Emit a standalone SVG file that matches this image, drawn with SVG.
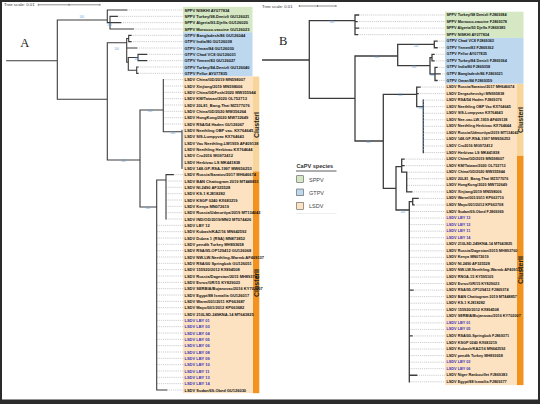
<svg xmlns="http://www.w3.org/2000/svg" width="540" height="404" viewBox="0 0 540 404">
<style>
text{font-family:"Liberation Sans",Arial,sans-serif;}
.br{fill:none;stroke:#3c3c3c;stroke-width:1.1;stroke-linecap:square}
.brB{fill:none;stroke:#3c3c3c;stroke-width:1.3;stroke-linecap:square}
.ds{fill:none;stroke:#9a9a9a;stroke-width:0.5;stroke-dasharray:1.2 0.9}
.la{font-size:4px;font-weight:bold;fill:#111;dominant-baseline:central}
.lb{font-size:3.8px;font-weight:bold;fill:#111;dominant-baseline:central}
.lby{fill:#3b32b8}
.bs{font-size:2.6px;fill:#5b9bd5;text-anchor:middle;dominant-baseline:central}
.cl{font-size:7px;font-weight:bold;fill:#222;text-anchor:middle}
.sc{font-size:4.3px;fill:#333;dominant-baseline:central}
.sp{fill:#d5e8c3}.gt{fill:#bdd7ee}.ls{fill:#fde2c1}.c1{fill:#f8d59a}.c2{fill:#f2921f}
</style>
<rect x="0" y="0" width="540" height="404" fill="#fff"/>
<g id="bands">
<rect class="sp" x="183" y="6.8" width="69.5" height="25.4"/>
<rect class="gt" x="183" y="32.2" width="69.5" height="44.3"/>
<rect class="ls" x="183" y="76.5" width="70" height="316.7"/>
<rect class="c1" x="253" y="76.5" width="6.3" height="95"/>
<rect class="c2" x="253" y="171.5" width="6.3" height="221.7"/>
<rect class="sp" x="445" y="11.7" width="78.5" height="26.2"/>
<rect class="gt" x="445" y="37.9" width="78.5" height="45.9"/>
<rect class="ls" x="445" y="83.8" width="72" height="301.3"/>
<rect class="c1" x="517" y="83.8" width="6.5" height="72"/>
<rect class="c2" x="517" y="155.8" width="6.5" height="229.3"/>
</g>
<g id="clusters">
<text class="cl" transform="translate(259.2,125) rotate(-90)">ClusterI</text>
<text class="cl" transform="translate(259.2,283) rotate(-90)">ClusterII</text>
<text class="cl" transform="translate(523.4,120) rotate(-90)">ClusterI</text>
<text class="cl" transform="translate(523.4,270) rotate(-90)">ClusterII</text>
</g>
<g id="scaleA">
<text class="sc" x="4" y="4.8">Tree scale: 0.01</text>
<path d="M38.3 4.8H100M38.3 3.8V5.8M69 3.8V5.8M100 3.8V5.8" fill="none" stroke="#444" stroke-width="0.6"/>
</g>
<g id="scaleB">
<text class="sc" x="262" y="6">Tree scale: 0.01</text>
<path d="M299.3 6H336M299.3 5V7M317.5 5V7M336 5V7" fill="none" stroke="#444" stroke-width="0.6"/>
</g>
<text x="20.3" y="47" font-size="12.5" fill="#222" style="font-family:'Liberation Serif',serif">A</text>
<text x="279" y="45.3" font-size="12.5" fill="#222" style="font-family:'Liberation Serif',serif">B</text>
<g id="connectors">
<path class="ds" d="M126.7 10H183M117.3 16.33H183M120.7 22.67H183M133.3 29H183M131 35.33H183M131 41.67H183M136.7 48H183M146.7 54.33H183M146.7 60.67H183M138 67H183M138 73.33H183M163.3 79.67H183M163.3 86H183M163.3 92.33H183M163.3 98.67H183M163.3 105H183M163.3 111.33H183M163.3 117.67H183M163.3 124H183M173.3 174.67H183M166 181H183M166 187.33H183M166 193.67H183M166 200H183M166 206.33H183M166 212.67H183M166 219H183M156.7 225.33H183M156.7 231.67H183M156.7 238H183M156.7 244.33H183M156.7 250.67H183M156.7 257H183M156.7 263.33H183M156.7 269.67H183M156.7 276H183M156.7 282.33H183M156.7 288.67H183M156.7 295H183M156.7 301.33H183M156.7 307.67H183M156.7 314H183M156.7 320.33H183M156.7 326.67H183M156.7 333H183M156.7 339.33H183M156.7 345.67H183M156.7 352H183M156.7 358.33H183M156.7 364.67H183M156.7 371H183M156.7 377.33H183M156.7 383.67H183M166.7 390H183"/>
<path class="ds" d="M358.5 15H445M357 21.55H445M358.5 28.1H445M357.5 34.65H445M437 41.2H445M437 47.75H445M434 54.3H445M434 60.85H445M437 67.4H445M440 73.95H445M437 80.5H445M420 87.05H445M418 93.6H445M423.3 100.15H445M423.3 106.7H445M423.3 113.25H445M423.3 119.8H445M423.3 126.35H445M423.3 132.9H445M423.3 139.45H445M423.3 146H445M423.3 152.55H445M404 159.1H445M404 165.65H445M406.7 172.2H445M406.7 178.75H445M406.7 185.3H445M411.7 191.85H445M418 198.4H445M414 204.95H445M409.3 211.5H445M409.3 218.05H445M409.3 224.6H445M409.3 231.15H445M409.3 237.7H445M409.3 244.25H445M409.3 250.8H445M409.3 257.35H445M409.3 263.9H445M409.3 270.45H445M409.3 277H445M409.3 283.55H445M413 290.1H445M409.3 296.65H445M409.3 303.2H445M409.3 309.75H445M409.3 316.3H445M409.3 322.85H445M409.3 329.4H445M412 335.95H445M409.3 342.5H445M409.3 349.05H445M409.3 355.6H445M409.3 362.15H445M409.3 368.7H445M416.7 375.25H445M409.3 381.8H445"/>
<path class="br" d="M6.7 60.7H57.3M57.3 20V99.3M57.3 20H107.3M107.3 10V22.67M107.3 10H126.7M107.3 22.67H110M110 16.33V29M110 16.33H117.3M110 22.67H120.7M110 29H133.3M57.3 99.3H107.3M107.3 42.7V160M107.3 42.7H126.7M126.7 38.5V62.2M126.7 38.5H128.7M128.7 35.33V41.67M128.7 35.33H131M128.7 41.67H131M126.7 48H136.7M126.7 62.2H128.3M128.3 57.5V70.2M128.3 57.5H138M138 54.33V60.67M138 54.33H146.7M138 60.67H146.7M128.3 70.2H136.7M136.7 67V73.33M136.7 67H138M136.7 73.33H138M107.3 160H140M140 110V207M140 110H163.3M163.3 79.67V131.7M163.3 131.7H182M182 130.33V168.33M140 207H156.7M156.7 180V390M156.7 180H166M166 174.67V219M166 174.67H173.3M156.7 390H166.7"/>
<path class="brB" d="M262.7 60H309.3M309.3 20.7V98.3M309.3 20.7H355M355 15V34.65M355 15H358.5M355 21.55H357M355 28.1H358.5M355 34.65H357.5M309.3 98.3H355M355 56V141M355 56H397.7M397.7 44.3V65.7M397.7 44.3H434.3M434.3 41.2V47.75M434.3 41.2H437M434.3 47.75H437M397.7 65.7H430M430 57.6V74M430 57.6H432M432 54.3V60.85M432 54.3H434M432 60.85H434M430 74H435M435 67.4V80.5M435 67.4H437M435 73.95H440M435 80.5H437M355 141H383.3M383.3 94.3V188.3M383.3 94.3H416.7M416.7 87.05V106.7M416.7 87.05H420M416.7 93.6H418M416.7 106.7H423.3M423.3 100.15V152.55M383.3 188.3H396M396 166.7V210M396 166.7H401.7M401.7 159.1V172.2M401.7 159.1H404M401.7 165.65H404M401.7 172.2H406.7M406.7 172.2V191.85M406.7 191.85H411.7M396 210H409.3M409.3 201.7V381.8M409.3 201.7H412.7M412.7 198.4V204.95M412.7 198.4H418M412.7 204.95H414M409.3 290.1H413M409.3 335.95H412M409.3 375.25H416.7"/>
<path d="M423.3 101V152M182 131V168" fill="none" stroke="#5b9bd5" stroke-width="1.1" stroke-dasharray="1 2.2"/>
</g>
<g id="bootstrap">
<text class="bs" x="81.7" y="17.3">100</text><text class="bs" x="109.5" y="25">100</text><text class="bs" x="116.7" y="49.3">100</text><text class="bs" x="136.7" y="59.3">100</text><text class="bs" x="123.3" y="161.8">100</text><text class="bs" x="150" y="111.7">100</text><text class="bs" x="172.7" y="133.3">100</text><text class="bs" x="147.7" y="208.8">100</text>
<text class="bs" x="331.7" y="22.7">100</text><text class="bs" x="376.7" y="57.6">100</text><text class="bs" x="416" y="46.7">100</text><text class="bs" x="414" y="67">100</text><text class="bs" x="432.3" y="75.5">100</text><text class="bs" x="400" y="95.9">100</text><text class="bs" x="420.7" y="108.7">100</text><text class="bs" x="368.3" y="142.7">100</text><text class="bs" x="402.7" y="212.3">100</text>
</g>
<g id="legend">
<text x="296.5" y="167.5" font-size="5.6" font-weight="bold" fill="#333">CaPV species</text>
<line x1="296" y1="171" x2="336.5" y2="171" stroke="#333" stroke-width="0.8"/>
<rect class="sp" x="296.7" y="175.7" width="6.7" height="6.7" stroke="#555" stroke-width="0.6"/>
<rect class="gt" x="296.7" y="189" width="6.7" height="6.7" stroke="#555" stroke-width="0.6"/>
<rect class="ls" x="296.7" y="202.6" width="6.7" height="6.7" stroke="#555" stroke-width="0.6"/>
<text x="309" y="181.5" font-size="5.5" fill="#444">SPPV</text>
<text x="309" y="194.8" font-size="5.5" fill="#444">GTPV</text>
<text x="309" y="208.4" font-size="5.5" fill="#444">LSDV</text>
<line x1="296" y1="213.5" x2="336.5" y2="213.5" stroke="#e2e2e2" stroke-width="0.6"/>
</g>
<g id="a01"><text class="la" x="184.5" y="10">SPPV NISKHI AY077834</text></g>
<g id="a02"><text class="la" x="184.5" y="16.33">SPPV Turkey/98-Denizli GU126021</text></g>
<g id="a03"><text class="la" x="184.5" y="22.67">SPPV Algeria/93-Djelfa GU126020</text></g>
<g id="a04"><text class="la" x="184.5" y="29">SPPV Morocco-vaccine GU126023</text></g>
<g id="a05"><text class="la" x="184.5" y="35.33">GTPV Bangladesh/86 GU126044</text></g>
<g id="a06"><text class="la" x="184.5" y="41.67">GTPV India/80 GU126038</text></g>
<g id="a07"><text class="la" x="184.5" y="48">GTPV Oman/84 GU126030</text></g>
<g id="a08"><text class="la" x="184.5" y="54.33">GTPV Chad VC8 GU126031</text></g>
<g id="a09"><text class="la" x="184.5" y="60.67">GTPV Yemen/83 GU126027</text></g>
<g id="a10"><text class="la" x="184.5" y="67">GTPV Turkey/84-Denizli GU126040</text></g>
<g id="a11"><text class="la" x="184.5" y="73.33">GTPV Pellor AY077835</text></g>
<g id="a12"><text class="la" x="184.5" y="79.67">LSDV China/GD/2019 MN598007</text></g>
<g id="a13"><text class="la" x="184.5" y="86">LSDV Xinjiang/2019 MN598006</text></g>
<g id="a14"><text class="la" x="184.5" y="92.33">LSDV China/GDFosh/2020 MW355944</text></g>
<g id="a15"><text class="la" x="184.5" y="98.67">LSDV KM/Taiwan/2020 OL752713</text></g>
<g id="a16"><text class="la" x="184.5" y="105">LSDV 20L81_Bang-Thai MZ577076</text></g>
<g id="a17"><text class="la" x="184.5" y="111.33">LSDV China/GD/2020 MW356264</text></g>
<g id="a18"><text class="la" x="184.5" y="117.67">LSDV HongKong/2020 MW732649</text></g>
<g id="a19"><text class="la" x="184.5" y="124">LSDV RSA/54 Haden GU126067</text></g>
<g id="a20"><text class="la" x="184.5" y="130.33">LSDV Neethling OBP vac. KX764645</text></g>
<g id="a21"><text class="la" x="184.5" y="136.67">LSDV SIS-Lumpyvax KX764643</text></g>
<g id="a22"><text class="la" x="184.5" y="143">LSDV Vac Neethling-LW1959 AF409138</text></g>
<g id="a23"><text class="la" x="184.5" y="149.33">LSDV Neethling Herbivac KX764644</text></g>
<g id="a24"><text class="la" x="184.5" y="155.67">LSDV Cro2016 MG972412</text></g>
<g id="a25"><text class="la" x="184.5" y="162">LSDV Herbivac LS MK441838</text></g>
<g id="a26"><text class="la" x="184.5" y="168.33">LSDV 148-GP-RSA-1997 MW656253</text></g>
<g id="a27"><text class="la" x="184.5" y="174.67">LSDV Russia/Saratov/2017 MH646674</text></g>
<g id="a28"><text class="la" x="184.5" y="181">LSDV BAN Chattogram 2019 MT448851</text></g>
<g id="a29"><text class="la" x="184.5" y="187.33">LSDV NI-2490 AF325528</text></g>
<g id="a30"><text class="la" x="184.5" y="193.67">LSDV KS-1 KJ818282</text></g>
<g id="a31"><text class="la" x="184.5" y="200">LSDV KSGP 0240 KX683219</text></g>
<g id="a32"><text class="la" x="184.5" y="206.33">LSDV Kenya MN072619</text></g>
<g id="a33"><text class="la" x="184.5" y="212.67">LSDV Russia/Udmurtiya/2019 MT134042</text></g>
<g id="a34"><text class="la" x="184.5" y="219">LSDV IND/OD/2019/MN/2 MT074426</text></g>
<g id="a35"><text class="la" x="184.5" y="225.33">LSDV LBY 12</text></g>
<g id="a36"><text class="la" x="184.5" y="231.67">LSDV Kubash/KAZ/16 MN642592</text></g>
<g id="a37"><text class="la" x="184.5" y="238">LSDV Dubna 1 (RSA) MN873852</text></g>
<g id="a38"><text class="la" x="184.5" y="244.33">LSDV pendik Turkey MH893658</text></g>
<g id="a39"><text class="la" x="184.5" y="250.67">LSDV RSA/95-OP129412 GU126068</text></g>
<g id="a40"><text class="la" x="184.5" y="257">LSDV NW-LW-Neethling-Warmb AF409137</text></g>
<g id="a41"><text class="la" x="184.5" y="263.33">LSDV RSA/00 Springbok GU126051</text></g>
<g id="a42"><text class="la" x="184.5" y="269.67">LSDV 155920/2012 KX894508</text></g>
<g id="a43"><text class="la" x="184.5" y="276">LSDV Russia/Dagestan/2015 MH893760</text></g>
<g id="a44"><text class="la" x="184.5" y="282.33">LSDV Evros/GR/15 KY829023</text></g>
<g id="a45"><text class="la" x="184.5" y="288.67">LSDV SERBIA/Bujanovac/2016 KY702007</text></g>
<g id="a46"><text class="la" x="184.5" y="295">LSDV Egypt/88 Ismailia GU126017</text></g>
<g id="a47"><text class="la" x="184.5" y="301.33">LSDV Warm/001/2011 KP663687</text></g>
<g id="a48"><text class="la" x="184.5" y="307.67">LSDV Mayo/001/2012 KP663682</text></g>
<g id="a49"><text class="la" x="184.5" y="314">LSDV 210LSD-249KNA-14 MT643825</text></g>
<g id="a50"><text class="la lby" x="184.5" y="320.33">LSDV LBY 01</text></g>
<g id="a51"><text class="la lby" x="184.5" y="326.67">LSDV LBY 03</text></g>
<g id="a52"><text class="la lby" x="184.5" y="333">LSDV LBY 04</text></g>
<g id="a53"><text class="la lby" x="184.5" y="339.33">LSDV LBY 05</text></g>
<g id="a54"><text class="la lby" x="184.5" y="345.67">LSDV LBY 06</text></g>
<g id="a55"><text class="la lby" x="184.5" y="352">LSDV LBY 08</text></g>
<g id="a56"><text class="la lby" x="184.5" y="358.33">LSDV LBY 09</text></g>
<g id="a57"><text class="la lby" x="184.5" y="364.67">LSDV LBY 10</text></g>
<g id="a58"><text class="la lby" x="184.5" y="371">LSDV LBY 11</text></g>
<g id="a59"><text class="la lby" x="184.5" y="377.33">LSDV LBY 13</text></g>
<g id="a60"><text class="la lby" x="184.5" y="383.67">LSDV LBY 14</text></g>
<g id="a61"><text class="la" x="184.5" y="390">LSDV Sudan/69-Obed GU126030</text></g>
<g id="b01"><text class="lb" x="446.5" y="15">SPPV Turkey/98 Denizli FJ869384</text></g>
<g id="b02"><text class="lb" x="446.5" y="21.55">SPPV Morocco-vaccine FJ869378</text></g>
<g id="b03"><text class="lb" x="446.5" y="28.1">SPPV Algeria/93 Djelfa FJ869385</text></g>
<g id="b04"><text class="lb" x="446.5" y="34.65">SPPV NISKHI AY077834</text></g>
<g id="b05"><text class="lb" x="446.5" y="41.2">GTPV Chad VC8 FJ869363</text></g>
<g id="b06"><text class="lb" x="446.5" y="47.75">GTPV Yemen/83 FJ869362</text></g>
<g id="b07"><text class="lb" x="446.5" y="54.3">GTPV Pellor AY077835</text></g>
<g id="b08"><text class="lb" x="446.5" y="60.85">GTPV Turkey/84 Denizli FJ869364</text></g>
<g id="b09"><text class="lb" x="446.5" y="67.4">GTPV India/80 FJ869358</text></g>
<g id="b10"><text class="lb" x="446.5" y="73.95">GTPV Bangladesh/86 FJ869321</text></g>
<g id="b11"><text class="lb" x="446.5" y="80.5">GTPV Oman/84 FJ869359</text></g>
<g id="b12"><text class="lb" x="446.5" y="87.05">LSDV Russia/Saratov/2017 MH646674</text></g>
<g id="b13"><text class="lb" x="446.5" y="93.6">LSDV Dergachevskyi MN995838</text></g>
<g id="b14"><text class="lb" x="446.5" y="100.15">LSDV RSA/54 Haden FJ869376</text></g>
<g id="b15"><text class="lb" x="446.5" y="106.7">LSDV Neethling OBP Vac KX764645</text></g>
<g id="b16"><text class="lb" x="446.5" y="113.25">LSDV SIS-Lumpyvax KX764643</text></g>
<g id="b17"><text class="lb" x="446.5" y="119.8">LSDV Nee-vac-LW-1959 AF409138</text></g>
<g id="b18"><text class="lb" x="446.5" y="126.35">LSDV Neethling Herbivac KX764644</text></g>
<g id="b19"><text class="lb" x="446.5" y="132.9">LSDV Russia/Udmurtiya/2019 MT134042</text></g>
<g id="b20"><text class="lb" x="446.5" y="139.45">LSDV 148-GP-RSA-1997 MW656253</text></g>
<g id="b21"><text class="lb" x="446.5" y="146">LSDV Cro2016 MG972412</text></g>
<g id="b22"><text class="lb" x="446.5" y="152.55">LSDV Herbivac LS MK441838</text></g>
<g id="b23"><text class="lb" x="446.5" y="159.1">LSDV China/GD/2019 MN598007</text></g>
<g id="b24"><text class="lb" x="446.5" y="165.65">LSDV KM/Taiwan/2020 OL752713</text></g>
<g id="b25"><text class="lb" x="446.5" y="172.2">LSDV China/GD/2020 MW355944</text></g>
<g id="b26"><text class="lb" x="446.5" y="178.75">LSDV 20L81_Bang-Thai MZ577076</text></g>
<g id="b27"><text class="lb" x="446.5" y="185.3">LSDV HongKong/2020 MW732649</text></g>
<g id="b28"><text class="lb" x="446.5" y="191.85">LSDV Xinjiang/2019 MN598006</text></g>
<g id="b29"><text class="lb" x="446.5" y="198.4">LSDV Warm/001/2011 KP663710</text></g>
<g id="b30"><text class="lb" x="446.5" y="204.95">LSDV Mayo/001/2012 KP663708</text></g>
<g id="b31"><text class="lb" x="446.5" y="211.5">LSDV Sudan/69-Obed FJ869369</text></g>
<g id="b32"><text class="lb lby" x="446.5" y="218.05">LSDV LBY 13</text></g>
<g id="b33"><text class="lb lby" x="446.5" y="224.6">LSDV LBY 12</text></g>
<g id="b34"><text class="lb lby" x="446.5" y="231.15">LSDV LBY 11</text></g>
<g id="b35"><text class="lb lby" x="446.5" y="237.7">LSDV LBY 14</text></g>
<g id="b36"><text class="lb" x="446.5" y="244.25">LSDV 210LSD-249KNA-14 MT643825</text></g>
<g id="b37"><text class="lb" x="446.5" y="250.8">LSDV Russia/Dagestan/2015 MH893760</text></g>
<g id="b38"><text class="lb" x="446.5" y="257.35">LSDV Kenya MN072619</text></g>
<g id="b39"><text class="lb" x="446.5" y="263.9">LSDV NI-2490 AF325528</text></g>
<g id="b40"><text class="lb" x="446.5" y="270.45">LSDV NW-LW-Neethling-Warmb AF409137</text></g>
<g id="b41"><text class="lb" x="446.5" y="277">LSDV RNOA-15 KY595105</text></g>
<g id="b42"><text class="lb" x="446.5" y="283.55">LSDV Evros/GR/15 KY829023</text></g>
<g id="b43"><text class="lb" x="446.5" y="290.1">LSDV RSA/95-OP129412 FJ869374</text></g>
<g id="b44"><text class="lb" x="446.5" y="296.65">LSDV BAN Chattogram 2019 MT448857</text></g>
<g id="b45"><text class="lb" x="446.5" y="303.2">LSDV KS-1 KJ818282</text></g>
<g id="b46"><text class="lb" x="446.5" y="309.75">LSDV 155920/2012 KX894508</text></g>
<g id="b47"><text class="lb" x="446.5" y="316.3">LSDV SERBIA/Bujanovac/2016 KY702007</text></g>
<g id="b48"><text class="lb lby" x="446.5" y="322.85">LSDV LBY 01</text></g>
<g id="b49"><text class="lb lby" x="446.5" y="329.4">LSDV LBY 05</text></g>
<g id="b50"><text class="lb" x="446.5" y="335.95">LSDV RSA/00-Springbok FJ869371</text></g>
<g id="b51"><text class="lb" x="446.5" y="342.5">LSDV KSGP 0240 KX683219</text></g>
<g id="b52"><text class="lb" x="446.5" y="349.05">LSDV Kubash/KAZ/16 MN642592</text></g>
<g id="b53"><text class="lb" x="446.5" y="355.6">LSDV pendik Turkey MH893658</text></g>
<g id="b54"><text class="lb lby" x="446.5" y="362.15">LSDV LBY 03</text></g>
<g id="b55"><text class="lb lby" x="446.5" y="368.7">LSDV LBY 06</text></g>
<g id="b56"><text class="lb" x="446.5" y="375.25">LSDV Niger Ranbouillet FJ869383</text></g>
<g id="b57"><text class="lb" x="446.5" y="381.8">LSDV Egypt/88 Ismailia FJ869377</text></g>
<rect x="1" y="1" width="538" height="401" fill="none" stroke="#2b2b2b" stroke-width="2"/>
<rect x="0" y="399.5" width="540" height="4.5" fill="#2b2b2b"/>
</svg>
